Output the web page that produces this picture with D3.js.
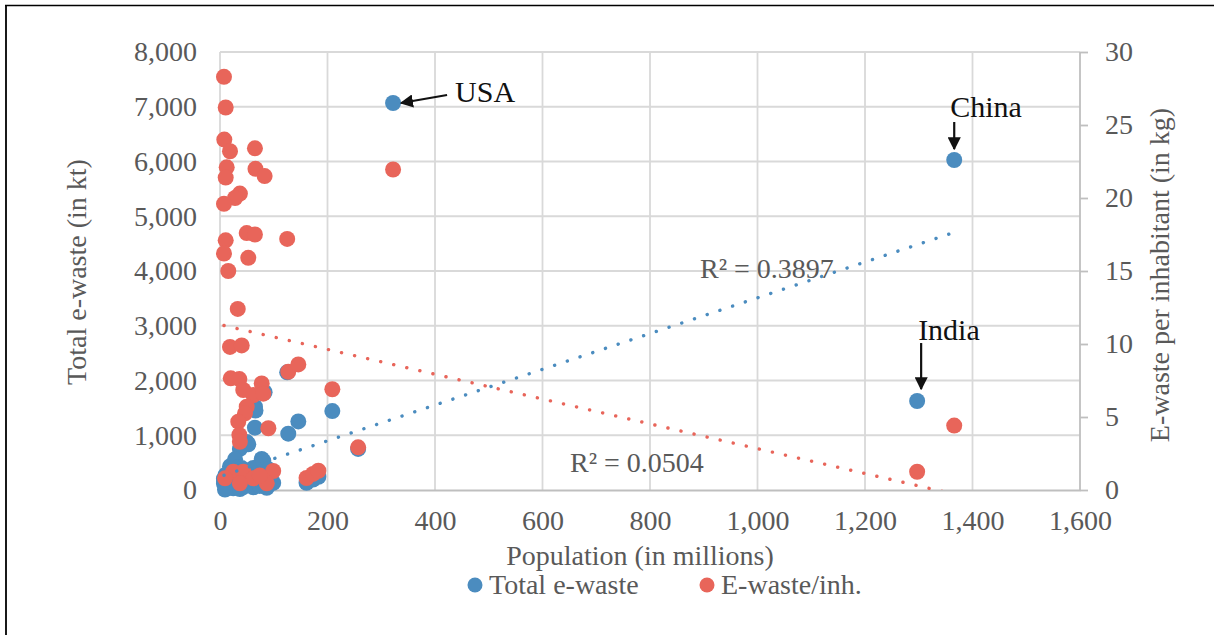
<!DOCTYPE html>
<html>
<head>
<meta charset="utf-8">
<script src="https://cdn.jsdelivr.net/npm/d3@7"></script>
<style>
  body { margin: 0; background: #fff; }
  svg { display: block; font-family: "Liberation Serif", "Times New Roman", serif; }
</style>
</head>
<body>
<div id="chart"></div>
<script>
// population in millions, per country
var population = [7.4, 10.6, 8.0, 18.6, 65, 12.5, 10.6, 66, 83, 37, 28, 7.4, 49.7, 65, 10.6, 125, 7.4, 52.6,
  15.4, 33, 18.6, 40.4, 127, 145.7, 20, 36, 77.6, 43.3, 62, 80.6, 49.7, 46.5, 34, 90, 36, 37, 209, 257,
  161, 173, 183, 322, 1366, 1297, 24.7, 43.3, 62, 99, 37, 87, 9.3, 74];
// total e-waste in kt (left axis)
var totalEwaste = [209, 278, 192, 432, 1521, 276, 227, 1452, 1785, 751, 560, 145, 875, 1138, 181, 2150, 120, 836,
  231, 409, 182, 400, 1029, 1253, 153, 274, 566, 297, 403, 532, 283, 244, 159, 381, 136, 122, 1442, 750,
  132, 190, 242, 7068, 6027, 1625, 31, 54, 50, 129, 17, 40, 7, 74];
// e-waste per inhabitant in kg (right axis)
var perInhabitant = [28.3, 26.2, 24.0, 23.2, 23.4, 22.1, 21.4, 22.0, 21.5, 20.3, 20.0, 19.6, 17.6, 17.5, 17.1, 17.2, 16.2, 15.9,
  15.0, 12.4, 9.8, 9.9, 8.1, 8.6, 7.65, 7.6, 7.3, 6.85, 6.5, 6.6, 5.7, 5.25, 4.68, 4.23, 3.77, 3.3, 6.9, 2.92,
  0.82, 1.1, 1.32, 21.95, 4.41, 1.25, 1.25, 1.25, 0.8, 1.3, 0.46, 0.46, 0.8, 1.0];

var xTicks = [0, 200, 400, 600, 800, 1000, 1200, 1400, 1600];
var leftTicks = [0, 1000, 2000, 3000, 4000, 5000, 6000, 7000, 8000];
var rightTicks = [0, 5, 10, 15, 20, 25, 30];

// linear trendlines as printed by the chart
var blueTrend = { intercept: 245, slope: 3.265, r2: '0.3897' };
var redTrend = { intercept: 11.33, slope: -0.0085, r2: '0.0504' };

var labelled = [
  { name: 'USA', pop: 322 },
  { name: 'China', pop: 1366 },
  { name: 'India', pop: 1297 }
];

var blue = '#4B8CBF', red = '#E8655A', grey = '#595959';

var width = 1214, height = 635;
var svg = d3.select('#chart').append('svg').attr('width', width).attr('height', height);

// frame around the figure
svg.append('line').attr('x1', 5).attr('x2', width).attr('y1', 5.5).attr('y2', 5.5)
  .attr('stroke', '#000').attr('stroke-width', 1.6);
svg.append('line').attr('x1', 6).attr('x2', 6).attr('y1', 5).attr('y2', height)
  .attr('stroke', '#000').attr('stroke-width', 1.8);

var x = d3.scaleLinear().domain([0, 1600]).range([220, 1080]);
var yL = d3.scaleLinear().domain([0, 8000]).range([490, 52]);
var yR = d3.scaleLinear().domain([0, 30]).range([490, 52]);

// grid
var grid = svg.append('g');
grid.selectAll('.h').data(leftTicks.slice(1)).enter().append('line')
  .attr('x1', x(0)).attr('x2', x(1600))
  .attr('y1', function(d) { return yL(d); }).attr('y2', function(d) { return yL(d); })
  .attr('stroke', '#D9D9D9').attr('stroke-width', 1.8);
grid.selectAll('.v').data(xTicks.slice(0, -1)).enter().append('line')
  .attr('x1', function(d) { return x(d); }).attr('x2', function(d) { return x(d); })
  .attr('y1', yL(0)).attr('y2', yL(8000))
  .attr('stroke', '#D9D9D9').attr('stroke-width', 1.8);

// bottom axis
var xAxis = svg.append('g').attr('transform', 'translate(0,' + yL(0) + ')')
  .call(d3.axisBottom(x).tickValues(xTicks).tickFormat(d3.format(',')).tickSize(0).tickPadding(20));
xAxis.select('.domain').attr('stroke', '#BFBFBF').attr('stroke-width', 1.8);

// left axis
var yAxisL = svg.append('g').attr('transform', 'translate(' + x(0) + ',0)')
  .call(d3.axisLeft(yL).tickValues(leftTicks).tickFormat(d3.format(',')).tickSize(0).tickPadding(23));
yAxisL.select('.domain').remove();

// right axis
var yAxisR = svg.append('g').attr('transform', 'translate(' + x(1600) + ',0)')
  .call(d3.axisRight(yR).tickValues(rightTicks).tickSize(8).tickPadding(17));
yAxisR.select('.domain').attr('stroke', '#BFBFBF').attr('stroke-width', 1.8).attr('d', 'M0,' + yR(0) + 'V' + yR(30));
yAxisR.selectAll('.tick line').attr('stroke', '#BFBFBF').attr('stroke-width', 1.8);

svg.selectAll('.tick text').attr('fill', grey).attr('font-size', 28)
  .attr('font-family', '"Liberation Serif", serif');
xAxis.selectAll('.tick text').attr('dy', '0.71em');

// axis titles
svg.append('text').attr('transform', 'translate(86,272) rotate(-90)')
  .attr('text-anchor', 'middle').attr('font-size', 28).attr('fill', grey).text('Total e-waste (in kt)');
svg.append('text').attr('transform', 'translate(1169,275) rotate(-90)')
  .attr('text-anchor', 'middle').attr('font-size', 28).attr('fill', grey).text('E-waste per inhabitant (in kg)');
svg.append('text').attr('x', 640).attr('y', 565)
  .attr('text-anchor', 'middle').attr('font-size', 28).attr('fill', grey).text('Population (in millions)');

// markers
var idx = d3.range(population.length);
svg.append('g').selectAll('circle').data(idx).enter().append('circle')
  .attr('cx', function(i) { return x(population[i]); })
  .attr('cy', function(i) { return yL(totalEwaste[i]); })
  .attr('r', 8).attr('fill', blue);
svg.append('g').selectAll('circle').data(idx).enter().append('circle')
  .attr('cx', function(i) { return x(population[i]); })
  .attr('cy', function(i) { return yR(perInhabitant[i]); })
  .attr('r', 8).attr('fill', red);

// trendlines
var popExtent = d3.extent(population);
svg.append('clipPath').attr('id', 'plot').append('rect')
  .attr('x', x(0)).attr('y', yL(8000)).attr('width', x(1600) - x(0)).attr('height', yL(0) - yL(8000));

function trend(t, yScale, color) {
  var line = d3.line()
    .x(function(p) { return x(p); })
    .y(function(p) { return yScale(t.intercept + t.slope * p); });
  svg.append('path').datum(popExtent)
    .attr('d', line)
    .attr('clip-path', 'url(#plot)')
    .attr('fill', 'none').attr('stroke', color).attr('stroke-width', 3.4)
    .attr('stroke-linecap', 'round').attr('stroke-dasharray', '0.1 13.3');
}
trend(blueTrend, yL, blue);
trend(redTrend, yR, red);

svg.append('text').attr('x', 700).attr('y', 278).attr('font-size', 28).attr('fill', grey)
  .text('R² = ' + blueTrend.r2);
svg.append('text').attr('x', 570).attr('y', 472).attr('font-size', 28).attr('fill', grey)
  .text('R² = ' + redTrend.r2);

// annotations with arrows
svg.append('defs').append('marker').attr('id', 'arrow')
  .attr('viewBox', '0 0 10 10').attr('refX', 9).attr('refY', 5)
  .attr('markerWidth', 6).attr('markerHeight', 6).attr('orient', 'auto')
  .attr('markerUnits', 'strokeWidth')
  .append('path').attr('d', 'M0,0 L10,5 L0,10 z').attr('fill', '#111');

function pointOf(name) {
  var p = labelled.filter(function(d) { return d.name === name; })[0].pop;
  var i = population.indexOf(p);
  return { cx: x(p), cy: yL(totalEwaste[i]) };
}

var usa = pointOf('USA');
svg.append('line').attr('x1', usa.cx + 54).attr('y1', usa.cy - 8).attr('x2', usa.cx + 8).attr('y2', usa.cy)
  .attr('stroke', '#111').attr('stroke-width', 2.2).attr('marker-end', 'url(#arrow)');
svg.append('text').attr('x', usa.cx + 62).attr('y', usa.cy - 1).attr('font-size', 30).attr('fill', '#111').text('USA');

var china = pointOf('China');
svg.append('line').attr('x1', china.cx).attr('y1', china.cy - 38).attr('x2', china.cx).attr('y2', china.cy - 11)
  .attr('stroke', '#111').attr('stroke-width', 2.2).attr('marker-end', 'url(#arrow)');
svg.append('text').attr('x', china.cx - 4).attr('y', china.cy - 43).attr('font-size', 30).attr('fill', '#111').text('China');

var india = pointOf('India');
svg.append('line').attr('x1', india.cx + 4).attr('y1', india.cy - 58).attr('x2', india.cx + 4).attr('y2', india.cy - 12)
  .attr('stroke', '#111').attr('stroke-width', 2.2).attr('marker-end', 'url(#arrow)');
svg.append('text').attr('x', india.cx + 1).attr('y', india.cy - 61).attr('font-size', 30).attr('fill', '#111').text('India');

// legend
var legend = [{ label: 'Total e-waste', color: blue, x: 475 }, { label: 'E-waste/inh.', color: red, x: 707 }];
var lg = svg.append('g').selectAll('g').data(legend).enter().append('g');
lg.append('circle').attr('cx', function(d) { return d.x; }).attr('cy', 585).attr('r', 7.5)
  .attr('fill', function(d) { return d.color; });
lg.append('text').attr('x', function(d) { return d.x + 14; }).attr('y', 594)
  .attr('font-size', 28).attr('fill', grey).text(function(d) { return d.label; });
</script>
</body>
</html>
